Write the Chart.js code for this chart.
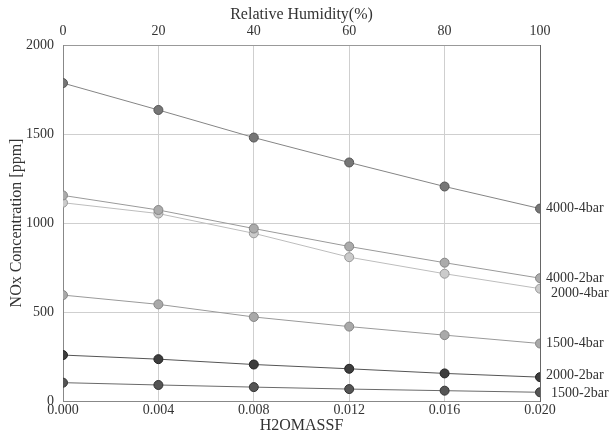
<!DOCTYPE html>
<html>
<head>
<meta charset="utf-8">
<title>NOx Concentration</title>
<script src="https://cdn.jsdelivr.net/npm/chart.js@4/dist/chart.umd.min.js"></script>
<style>
    html, body { margin: 0; padding: 0; background: #fff; }
    #wrap { width: 610px; height: 434px; }
</style>
</head>
<body>
<div id="wrap"><canvas id="chart" width="610" height="434"></canvas></div>
<script>
(function (Chart) {
    "use strict";

    // H2O mass fraction at each sample, and matching relative humidity
    var massFractions = [0, 0.004, 0.008, 0.012, 0.016, 0.020];
    var humidityTicks = [0, 20, 40, 60, 80, 100];
    var nitrogenTicks = [0, 500, 1000, 1500, 2000];

    var seriesNames = ["4000-4bar", "4000-2bar", "2000-4bar", "1500-4bar", "2000-2bar", "1500-2bar"];
    var nox4000at4 = [1786, 1635, 1480, 1340, 1205, 1081];
    var nox4000at2 = [1155, 1073, 969, 868, 777, 690];
    var nox2000at4 = [1114, 1053, 942, 808, 715, 631];
    var nox1500at4 = [595, 543, 472, 418, 370, 323];
    var nox2000at2 = [258, 235, 205, 181, 155, 134];
    var nox1500at2 = [103, 90, 78, 67, 58, 49];

    var seriesValues = [nox4000at4, nox4000at2, nox2000at4, nox1500at4, nox2000at2, nox1500at2];

    // look of each line: line colour, point fill, point border, label nudge
    var styles = [
        { line: "#858585", fill: "#767676", edge: "#555", dx: 0, dy: 0 },
        { line: "#9a9a9a", fill: "#ababab", edge: "#858585", dx: 0, dy: 0 },
        { line: "#bdbdbd", fill: "#cbcbcb", edge: "#999", dx: 5, dy: 5 },
        { line: "#9a9a9a", fill: "#a9a9a9", edge: "#858585", dx: 0, dy: 0 },
        { line: "#555", fill: "#3d3d3d", edge: "#222", dx: 0, dy: -2 },
        { line: "#6a6a6a", fill: "#555", edge: "#333", dx: 5, dy: 1 }
    ];

    var serif = "'Liberation Serif', 'DejaVu Serif', serif";

    function buildDatasets () {
        return seriesNames.map(function (name, i) {
            var st = styles[i];
            return {
                label: name,
                data: massFractions.map(function (x, j) {
                    return { x: x, y: seriesValues[i][j] };
                }),
                borderColor: st.line,
                borderWidth: 1,
                backgroundColor: st.fill,
                pointBackgroundColor: st.fill,
                pointBorderColor: st.edge,
                pointBorderWidth: 1,
                pointRadius: 4.5,
                tension: 0,
                xAxisID: "x",
                yAxisID: "y"
            };
        });
    }

    // writes series names next to the last point of each line
    var endLabels = {
        id: "endLabels",
        afterDatasetsDraw: function (chart) {
            var ctx = chart.ctx;
            ctx.save();
            ctx.font = "14px " + serif;
            ctx.fillStyle = "#333";
            ctx.textBaseline = "middle";
            ctx.textAlign = "left";
            chart.data.datasets.forEach(function (ds, i) {
                var meta = chart.getDatasetMeta(i),
                    last = meta.data[meta.data.length - 1];
                ctx.fillText(ds.label, last.x + 6 + styles[i].dx, last.y + styles[i].dy);
            });
            ctx.restore();
        }
    };

    function fixSize (size) {
        return function (scale) {
            if (scale.isHorizontal()) scale.height = size;
            else scale.width = size;
        };
    }

    function tickFont () {
        return { family: serif, size: 14 };
    }

    function titleFont () {
        return { family: serif, size: 16, lineHeight: 1 };
    }

    new Chart(document.getElementById("chart"), {
        type: "line",
        data: { datasets: buildDatasets() },
        plugins: [endLabels],
        options: {
            responsive: false,
            animation: false,
            layout: { padding: { top: 0, right: 70, bottom: 0, left: 0 } },
            plugins: {
                legend: { display: false },
                tooltip: { enabled: false }
            },
            scales: {
                x: {
                    type: "linear",
                    position: "bottom",
                    min: 0,
                    max: 0.02,
                    afterBuildTicks: function (scale) {
                        scale.ticks = massFractions.map(function (v) { return { value: v }; });
                    },
                    afterFit: fixSize(33),
                    ticks: {
                        color: "#333",
                        font: tickFont(),
                        padding: 1,
                        maxRotation: 0,
                        callback: function (v) { return Number(v).toFixed(3); }
                    },
                    grid: { color: "#cfcfcf", drawTicks: false },
                    border: { color: "#888" },
                    title: {
                        display: true,
                        text: "H2OMASSF",
                        color: "#333",
                        font: titleFont(),
                        padding: 0
                    }
                },
                x2: {
                    type: "linear",
                    position: "top",
                    min: 0,
                    max: 100,
                    afterBuildTicks: function (scale) {
                        scale.ticks = humidityTicks.map(function (v) { return { value: v }; });
                    },
                    afterFit: fixSize(45),
                    ticks: {
                        color: "#333",
                        font: tickFont(),
                        padding: 5,
                        maxRotation: 0
                    },
                    grid: { display: false, drawTicks: false },
                    border: { color: "#999" },
                    title: {
                        display: true,
                        text: "Relative Humidity(%)",
                        color: "#333",
                        font: titleFont(),
                        padding: { top: 7, bottom: 0 }
                    }
                },
                y: {
                    type: "linear",
                    position: "left",
                    min: 0,
                    max: 2000,
                    afterBuildTicks: function (scale) {
                        scale.ticks = nitrogenTicks.map(function (v) { return { value: v }; });
                    },
                    afterFit: fixSize(63),
                    ticks: {
                        color: "#333",
                        font: tickFont(),
                        padding: 9,
                        callback: function (v) { return String(v); }
                    },
                    grid: { color: "#cfcfcf", drawTicks: false },
                    border: { color: "#888" },
                    title: {
                        display: true,
                        text: "NOx Concentration [ppm]",
                        color: "#333",
                        font: titleFont(),
                        padding: { top: 9, bottom: 0 }
                    }
                },
                y2: {
                    type: "linear",
                    position: "right",
                    min: 0,
                    max: 2000,
                    afterFit: fixSize(0),
                    ticks: { display: false },
                    grid: { display: false, drawTicks: false },
                    border: { color: "#666" }
                }
            }
        }
    });
})(Chart);
</script>
</body>
</html>
